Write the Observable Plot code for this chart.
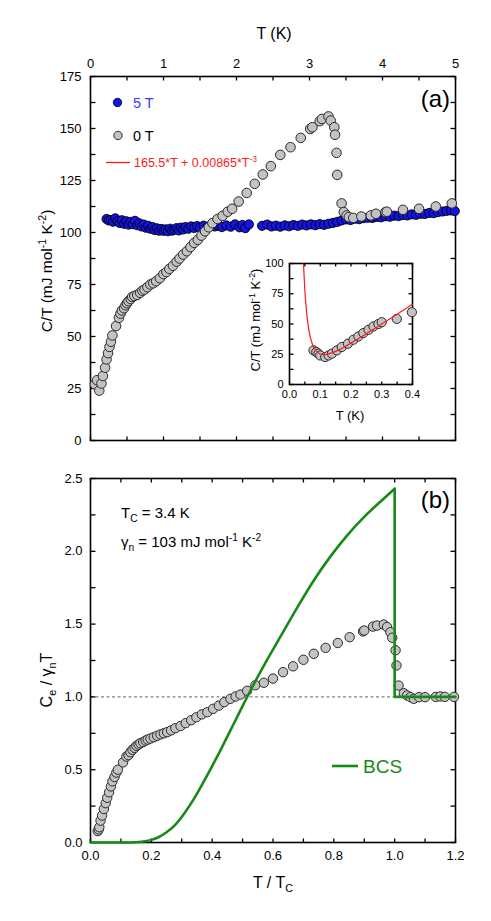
<!DOCTYPE html>
<html><head><meta charset="utf-8">
<script src="https://cdn.jsdelivr.net/npm/d3@7"></script>
<script src="https://cdn.jsdelivr.net/npm/@observablehq/plot@0.6"></script>
<style>
body{margin:0;background:#fff;}
#wrap{position:relative;width:491px;height:921px;overflow:hidden;}
#wrap svg{position:absolute;background:transparent;overflow:visible;}
</style></head><body><div id="wrap"></div>
<script>
// ---------- Panel (a): C/T vs T ----------
const T0  = [0.06,0.09,0.12,0.15,0.17,0.20,0.22,0.24,0.26,0.28,0.30,0.35,0.39,0.41,0.43,0.46,0.48,0.50,0.52,0.55,0.57,0.60,0.64,0.68,0.71,0.74,0.78,0.82,0.86,0.90,0.95,1.00,1.04,1.08,1.13,1.18,1.22,1.27,1.32,1.37,1.42,1.47,1.52,1.57,1.62,1.67,1.74,1.81,1.88,1.94,2.03,2.14,2.25,2.36,2.47,2.60,2.74,2.88,3.01,3.04,3.14,3.17,3.26,3.29,3.34,3.35,3.37,3.38,3.44,3.47,3.51,3.54,3.60,3.71,3.84,3.91,4.04,4.06,4.28,4.50,4.73,4.95];
const CT0 = [27,29,24,27.4,31,35,39,42,45,47.5,50.5,55,59,61,62.5,63.6,65,66,67,68,69,69.5,70,71,72,72.6,73.7,75,75.6,76.6,78,80,81,82.5,84,86,87.5,89.4,91,93,95,96.5,98.5,100.6,102.5,104.5,106.5,108,110,111.4,114.9,119,123.4,127.9,131.9,137.3,141,145.5,149.8,150.6,153.5,154.6,155.8,153.8,150.6,147,138.3,127.7,114,109.8,108.2,107.4,107,107.7,108.2,109,109.8,110,110.9,111.4,112.5,114];
const T5  = [0.22,0.25,0.28,0.31,0.34,0.37,0.40,0.43,0.46,0.49,0.52,0.55,0.58,0.61,0.64,0.67,0.70,0.73,0.76,0.79,0.82,0.85,0.88,0.91,0.94,0.97,1.00,1.03,1.06,1.09,1.12,1.15,1.18,1.21,1.24,1.27,1.30,1.34,1.38,1.42,1.46,1.50,1.55,1.60,1.65,1.70,1.75,1.80,1.86,1.92,1.98,2.04,2.08,2.12,2.17,2.35,2.42,2.48,2.54,2.60,2.66,2.72,2.78,2.84,2.90,2.96,3.02,3.08,3.14,3.20,3.26,3.32,3.38,3.44,3.50,3.56,3.62,3.68,3.74,3.80,3.86,3.92,3.98,4.04,4.10,4.16,4.22,4.28,4.34,4.40,4.46,4.52,4.58,4.64,4.70,4.76,4.82,4.88,4.94,4.99];
const CT5 = [106.5,105.8,106.0,105.2,106.8,105.5,104.6,105.9,104.2,105.4,103.8,105.1,104.0,105.6,103.5,104.4,102.9,103.8,102.3,103.2,101.8,102.6,101.2,102.0,100.9,101.7,100.8,101.5,100.6,101.8,100.9,101.4,102.1,101.0,102.3,101.5,102.6,101.8,102.9,102.2,103.1,102.4,103.3,102.7,103.5,102.9,103.2,102.6,103.4,102.8,103.9,102.5,103.6,102.1,103.9,103.2,103.8,102.9,103.3,102.8,103.4,103.0,103.6,103.2,103.8,103.4,103.9,103.5,104.0,103.7,104.2,104.6,105.1,105.8,106.3,106.0,106.6,106.4,106.9,107.1,107.0,107.5,107.3,107.8,107.6,108.1,107.9,108.4,108.2,108.7,108.5,109.0,108.9,109.4,109.3,109.8,110.1,110.4,110.6,110.3];
const aXMajor = [0,1,2,3,4,5];
const aXAll   = [0,0.5,1,1.5,2,2.5,3,3.5,4,4.5,5];
const aYMajor = [0,25,50,75,100,125,150,175];
const aYAll   = [0,12.5,25,37.5,50,62.5,75,87.5,100,112.5,125,137.5,150,162.5,175];

// ---------- Inset ----------
const insetT  = [0.078,0.087,0.094,0.100,0.116,0.127,0.138,0.154,0.170,0.190,0.208,0.224,0.240,0.257,0.273,0.289,0.300,0.349,0.398];
const insetCT = [28.2,26.8,25.5,24,22.7,24,25.5,28.2,31,33.7,37,39.7,42.5,45.2,48,50,51.5,54.2,59.7];
const fitT    = [0.0455,0.05,0.055,0.06,0.065,0.07,0.08,0.09,0.10,0.11,0.12,0.14,0.16,0.18,0.20,0.25,0.30,0.35,0.40];
const fitCT   = [99.5,77.5,61.1,49.9,42.3,36.8,30.1,26.8,25.2,24.7,24.9,26.3,28.6,31.3,34.2,41.9,50.0,58.1,66.3];
const inXMajor = [0,0.1,0.2,0.3,0.4];
const inXAll   = [0,0.05,0.1,0.15,0.2,0.25,0.3,0.35,0.4];
const inYMajor = [0,25,50,75,100];
const inYAll   = [0,12.5,25,37.5,50,62.5,75,87.5,100];

// ---------- Panel (b): Ce/γnT vs T/Tc ----------
const tr = [0.024,0.027,0.029,0.033,0.038,0.044,0.050,0.055,0.061,0.067,0.072,0.079,0.085,0.090,0.107,0.118,0.125,0.131,0.138,0.145,0.151,0.158,0.164,0.173,0.181,0.188,0.197,0.208,0.219,0.230,0.241,0.252,0.265,0.279,0.296,0.313,0.331,0.348,0.366,0.384,0.403,0.422,0.440,0.460,0.477,0.493,0.515,0.542,0.570,0.600,0.633,0.666,0.700,0.734,0.773,0.813,0.852,0.896,0.900,0.929,0.942,0.964,0.975,0.986,0.992,1.003,1.006,1.013,1.030,1.041,1.052,1.063,1.080,1.100,1.135,1.150,1.165,1.195];
const ce = [0.078,0.09,0.105,0.15,0.185,0.23,0.27,0.307,0.345,0.385,0.42,0.45,0.48,0.50,0.55,0.59,0.60,0.62,0.637,0.65,0.664,0.673,0.682,0.69,0.70,0.707,0.714,0.723,0.733,0.742,0.75,0.758,0.77,0.785,0.80,0.82,0.84,0.86,0.88,0.895,0.918,0.94,0.964,0.987,1.003,1.016,1.042,1.08,1.097,1.126,1.17,1.21,1.255,1.296,1.337,1.37,1.41,1.45,1.456,1.483,1.49,1.497,1.48,1.444,1.406,1.32,1.216,1.078,1.025,1.01,0.998,0.987,0.998,0.998,1.0,1.003,1.0,1.0];
const bcsX = [0,0.10,0.15,0.18,0.20,0.225,0.25,0.28,0.31,0.34,0.37,0.40,0.43,0.46,0.49,0.52,0.57,0.625,0.68,0.734,0.789,0.844,0.899,0.95,1.0];
const bcsY = [0,0,0.002,0.008,0.018,0.038,0.07,0.125,0.205,0.30,0.41,0.525,0.645,0.77,0.895,1.02,1.215,1.415,1.615,1.80,1.965,2.11,2.235,2.335,2.43];
const jumpX = [1.0,1.0,1.2];
const jumpY = [2.43,1.0,1.0];
const normalLevel = [1.0];
const bXMajor = [0,0.2,0.4,0.6,0.8,1.0,1.2];
const bXAll   = [0,0.1,0.2,0.3,0.4,0.5,0.6,0.7,0.8,0.9,1.0,1.1,1.2];
const bYMajor = [0,0.5,1.0,1.5,2.0,2.5];
const bYAll   = [0,0.25,0.5,0.75,1.0,1.25,1.5,1.75,2.0,2.25,2.5];

// ---------- helpers ----------
const font = "'Liberation Sans', Arial, Helvetica, sans-serif";
const pairs = (xs, ys, kx, ky) => xs.slice(0, Math.min(xs.length, ys.length)).map((v, i) => ({[kx]: v, [ky]: ys[i]}));
const wrap = document.getElementById("wrap");
const GRAY = "#c3c3c3", EDGE = "#2a2a2a", BLUE = "#1414e6", GREEN = "#178a17", RED = "#ff1a1a";

function frameAxes({xMajor, xAll, yMajor, yAll, xLabelSide, fmtX, fmtY, tick = 4.5, pad = 8, fs = 13}) {
  const tk = {fill: "none", label: null, strokeWidth: 1.3, tickSize: tick};
  return [
    Plot.axisX({anchor: xLabelSide, ticks: xMajor, tickSize: 0, tickPadding: pad, tickFormat: fmtX, label: null, fontSize: fs}),
    Plot.axisY({anchor: "left", ticks: yMajor, tickSize: 0, tickPadding: pad, tickFormat: fmtY, label: null, fontSize: fs}),
    // inward ticks on all four sides
    Plot.axisX({...tk, anchor: "bottom", frameAnchor: "top", ticks: xAll}),
    Plot.axisX({...tk, anchor: "top", frameAnchor: "bottom", ticks: xAll}),
    Plot.axisY({...tk, anchor: "right", frameAnchor: "left", ticks: yAll}),
    Plot.axisY({...tk, anchor: "left", frameAnchor: "right", ticks: yAll}),
    Plot.frame({stroke: "#000", strokeWidth: 1.6})
  ];
}

function rich(svg, x, y, parts, {size = 13, anchor = "start", fill = "#000", rotate = 0} = {}) {
  const t = d3.select(svg).append("text")
    .attr("transform", `translate(${x},${y}) rotate(${rotate})`)
    .attr("text-anchor", anchor).attr("font-size", size).attr("fill", fill)
    .attr("font-family", font);
  let shift = 0;
  for (const [s, kind] of parts) {
    const target = kind === "sup" ? -0.42 * size : kind === "sub" ? 0.28 * size : 0;
    const ts = t.append("tspan").text(s).attr("dy", target - shift);
    if (kind) ts.attr("font-size", size * 0.68);
    shift = target;
  }
  return t;
}

function place(svg, left, top) {
  svg.style.left = left + "px";
  svg.style.top = top + "px";
  wrap.appendChild(svg);
}

// ---------- build panel (a) ----------
const svgA = Plot.plot({
  width: 491, height: 460,
  marginTop: 76, marginRight: 36, marginBottom: 20, marginLeft: 90,
  style: {fontFamily: font, fontSize: "13px", color: "#000", background: "transparent", overflow: "visible"},
  x: {domain: [0, 5], label: null},
  y: {domain: [0, 175], label: null},
  marks: [
    ...frameAxes({xMajor: aXMajor, xAll: aXAll, yMajor: aYMajor, yAll: aYAll, xLabelSide: "top", fmtX: d3.format("d"), fmtY: d3.format("d"), pad: 9}),
    Plot.dot(pairs(T5, CT5, "T", "ct"), {x: "T", y: "ct", r: 4.6, fill: BLUE, stroke: "#000", strokeWidth: 0.9}),
    Plot.dot(pairs(T0, CT0, "T", "ct"), {x: "T", y: "ct", r: 4.8, fill: GRAY, stroke: EDGE, strokeWidth: 1})
  ]
});
place(svgA, 0, 0);
rich(svgA, 274, 39, [["T (K)"]], {size: 16, anchor: "middle"});
rich(svgA, 52, 271, [["C/T (mJ mol"], ["-1", "sup"], [" K"], ["-2", "sup"], [")"]], {size: 15.5, anchor: "middle", rotate: -90});
rich(svgA, 450, 107, [["(a)"]], {size: 24, anchor: "end"});
// legend
const gA = d3.select(svgA);
gA.append("circle").attr("cx", 117.5).attr("cy", 102.5).attr("r", 4.2).attr("fill", BLUE).attr("stroke", "#000").attr("stroke-width", 0.8);
rich(svgA, 133, 107.5, [["5 T"]], {size: 14.5, fill: "#3a3aff"});
gA.append("circle").attr("cx", 118).attr("cy", 135.5).attr("r", 4.2).attr("fill", GRAY).attr("stroke", EDGE).attr("stroke-width", 1);
rich(svgA, 133, 140.5, [["0 T"]], {size: 14.5});
gA.append("line").attr("x1", 106).attr("x2", 130).attr("y1", 162.5).attr("y2", 162.5).attr("stroke", RED).attr("stroke-width", 1.3);
rich(svgA, 134, 167, [["165.5*T + 0.00865*T"], ["-3", "sup"]], {size: 12.5, fill: RED});

// ---------- build inset ----------
const svgI = Plot.plot({
  width: 200, height: 190,
  marginTop: 13, marginRight: 18, marginBottom: 56, marginLeft: 59,
  style: {fontFamily: font, fontSize: "11px", color: "#000", background: "transparent", overflow: "visible"},
  x: {domain: [0, 0.4], label: null},
  y: {domain: [0, 100], label: null},
  marks: [
    ...frameAxes({xMajor: inXMajor, xAll: inXAll, yMajor: inYMajor, yAll: inYAll, xLabelSide: "bottom", fmtX: d3.format(".1f"), fmtY: d3.format("d"), tick: 3.5, pad: 6, fs: 11}),
    Plot.dot(pairs(insetT, insetCT, "T", "ct"), {x: "T", y: "ct", r: 4.6, fill: GRAY, stroke: EDGE, strokeWidth: 1}),
    Plot.line(pairs(fitT, fitCT, "T", "ct"), {x: "T", y: "ct", stroke: RED, strokeWidth: 1.2, curve: "monotone-x"})
  ]
});
place(svgI, 230, 250);
rich(svgI, 120, 170, [["T (K)"]], {size: 13, anchor: "middle"});
rich(svgI, 30, 70, [["C/T (mJ mol"], ["-1", "sup"], [" K"], ["-2", "sup"], [")"]], {size: 13, anchor: "middle", rotate: -90});

// ---------- build panel (b) ----------
const svgB = Plot.plot({
  width: 491, height: 461,
  marginTop: 18, marginRight: 36, marginBottom: 79, marginLeft: 90,
  style: {fontFamily: font, fontSize: "13px", color: "#000", background: "transparent", overflow: "visible"},
  x: {domain: [0, 1.2], label: null},
  y: {domain: [0, 2.5], label: null},
  marks: [
    Plot.ruleY(normalLevel, {stroke: "#555", strokeWidth: 0.9, strokeDasharray: "3,2.5"}),
    ...frameAxes({xMajor: bXMajor, xAll: bXAll, yMajor: bYMajor, yAll: bYAll, xLabelSide: "bottom", fmtX: d3.format(".1f"), fmtY: d3.format(".1f"), pad: 8}),
    Plot.dot(pairs(tr, ce, "t", "c"), {x: "t", y: "c", r: 4.7, fill: GRAY, stroke: EDGE, strokeWidth: 1}),
    Plot.line(pairs(bcsX, bcsY, "t", "c"), {x: "t", y: "c", stroke: GREEN, strokeWidth: 2.6, curve: "monotone-x"}),
    Plot.line(pairs(jumpX, jumpY, "t", "c"), {x: "t", y: "c", stroke: GREEN, strokeWidth: 2.6, curve: "linear"})
  ]
});
place(svgB, 0, 460);
rich(svgB, 273, 428, [["T / T"], ["C", "sub"]], {size: 16, anchor: "middle"});
rich(svgB, 52, 220, [["C"], ["e", "sub"], [" / γ"], ["n", "sub"], ["T"]], {size: 16, anchor: "middle", rotate: -90});
rich(svgB, 450, 48, [["(b)"]], {size: 24, anchor: "end"});
rich(svgB, 121, 58, [["T"], ["C", "sub"], [" = 3.4 K"]], {size: 15});
rich(svgB, 121, 87, [["γ"], ["n", "sub"], [" = 103 mJ mol"], ["-1", "sup"], [" K"], ["-2", "sup"]], {size: 15});
const gB = d3.select(svgB);
gB.append("line").attr("x1", 332).attr("x2", 358).attr("y1", 306).attr("y2", 306).attr("stroke", GREEN).attr("stroke-width", 2.6);
rich(svgB, 363, 312.5, [["BCS"]], {size: 19, fill: GREEN});
</script></body></html>
